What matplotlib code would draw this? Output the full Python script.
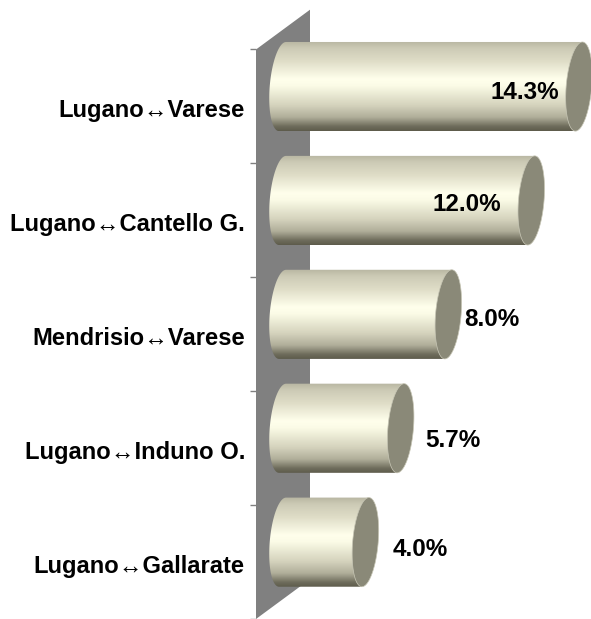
import numpy as np
import matplotlib
matplotlib.use("Agg")
import matplotlib.pyplot as plt
from matplotlib.colors import LinearSegmentedColormap
from matplotlib.patches import PathPatch, Polygon
from matplotlib.path import Path
from matplotlib.transforms import ScaledTranslation

categories = ["Lugano↔Varese", "Lugano↔Cantello G.", "Mendrisio↔Varese",
              "Lugano↔Induno O.", "Lugano↔Gallarate"]
values = [14.3, 12.0, 8.0, 5.7, 4.0]
value_labels = ["14.3%", "12.0%", "8.0%", "5.7%", "4.0%"]

W, H = 591, 619
PX_X = 20.73    # px per percent
PX_Y = 114.5    # px per category
plt.rcParams["font.family"] = ["Liberation Sans", "DejaVu Sans"]

fig = plt.figure(figsize=(W / 100, H / 100), dpi=100)
ax = fig.add_axes([256 / W, 0, (W - 256) / W, 1])
ax.set_xlim(0, (W - 256) / PX_X)
ax.set_ylim((H - 107) / PX_Y, -107 / PX_Y)
ax.patch.set_alpha(0)
for s in ax.spines.values():
    s.set_visible(False)

# depth of the pseudo-3D scene, in data units
wall_dx, wall_dy = 54 / PX_X, 40 / PX_Y
bar_dx, bar_dy = 26.5 / PX_X, 20.0 / PX_Y
cap_w = 12.8 / PX_X
half_h = 44.8 / PX_Y
shear_x = 3.5 / PX_X    # caps lean: top to the right, bottom to the left

n = len(categories)
ax.add_patch(Polygon([(0, -0.5), (wall_dx, -0.5 - wall_dy),
                      (wall_dx, n - 0.5 - wall_dy), (0, n - 0.5)],
                     closed=True, fc="#808080", ec="none", zorder=1))

stops = [(0.00, "#b8b6a2"), (0.08, "#cdcbb6"), (0.22, "#dfddc7"), (0.42, "#ffffec"),
         (0.50, "#fbfbe6"), (0.72, "#d4d2bc"), (0.85, "#b0ae9a"), (0.95, "#6f6d5c"),
         (1.00, "#5e5c4c")]
cmap = LinearSegmentedColormap.from_list("cyl", stops)
grad = np.linspace(0, 1, 128).reshape(-1, 1)

theta = np.linspace(0, 2 * np.pi, 121)


def cap_xy(xc, yc, t):
    """Sheared ellipse outline; y grows downwards on screen."""
    u = np.sin(t)   # -1 top, +1 bottom
    return xc + cap_w * np.cos(t) - shear_x * u, yc + half_h * u


for i, v in enumerate(values):
    yc = i - bar_dy
    y0, y1 = yc - half_h, yc + half_h
    xl = bar_dx
    xr = bar_dx + v
    # body: left half of the left cap + rectangle to the right cap's centre line
    t_left = np.linspace(-np.pi / 2, -3 * np.pi / 2, 61)
    lx, ly = cap_xy(xl, yc, t_left)
    verts = list(zip(lx, ly)) + [(xr - shear_x, y1), (xr + shear_x, y0), (lx[0], ly[0])]
    body = PathPatch(Path(verts, closed=True), fc="none", ec="none", transform=ax.transData)
    ax.add_patch(body)
    im = ax.imshow(grad, cmap=cmap, aspect="auto",
                   extent=(xl - cap_w - shear_x, xr + shear_x, y1, y0),
                   zorder=2, interpolation="bilinear")
    im.set_clip_path(body)
    cx, cy = cap_xy(xr, yc, theta)
    ax.add_patch(Polygon(np.column_stack([cx, cy]), closed=True, fc="#8a8978",
                         ec="#c8c7b6", lw=0.5, zorder=3))

ax.set_xlim(0, (W - 256) / PX_X)
ax.set_ylim((H - 107) / PX_Y, -107 / PX_Y)

ax.set_xticks([])
ax.set_yticks(range(n))
ax.set_yticklabels(categories, fontsize=17.1, fontweight="bold", color="#000000")
ax.set_yticks(np.arange(n + 1) - 0.5, minor=True)
ax.tick_params(axis="y", which="major", length=0, pad=8)
ax.tick_params(axis="y", which="minor", length=4.5, width=1, color="#808080")
nudge = ScaledTranslation(0, -1.5 / 100, fig.dpi_scale_trans)
for lab in ax.get_yticklabels():
    lab.set_transform(lab.get_transform() + nudge)

# data labels were hand-placed in the source chart: offset (px) from the bar's end
label_offsets = [(-54, 6), (-64, 4), (44, 5), (52, 12), (55, 7)]
for i, (v, t, (ox, oy)) in enumerate(zip(values, value_labels, label_offsets)):
    ax.annotate(t, (bar_dx + v, i - bar_dy), xytext=(ox * 0.72, -oy * 0.72),
                textcoords="offset points", ha="center", va="center",
                fontsize=17.5, fontweight="bold", color="#000000", zorder=5)

fig.savefig("out.png", dpi=100)
